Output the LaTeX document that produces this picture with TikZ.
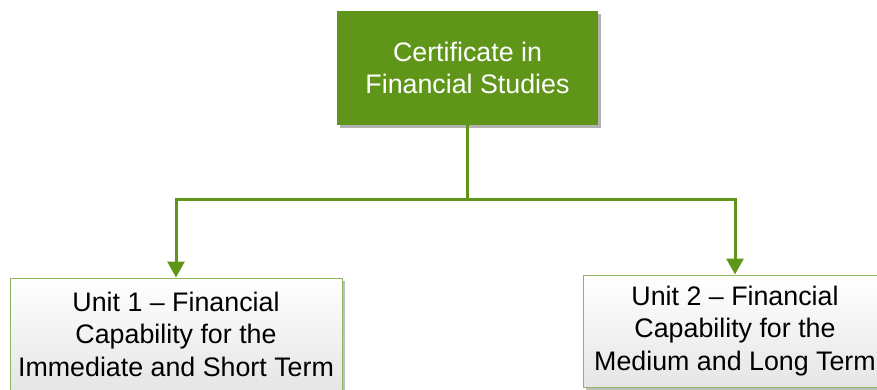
\documentclass[tikz,border=0pt]{standalone}
\usepackage{fontspec}
\setmainfont{Liberation Sans}
\usepackage{xcolor}
\usetikzlibrary{positioning,arrows.meta,shadows}
\definecolor{leafgreen}{RGB}{95,150,26}

\begin{document}
\begin{tikzpicture}[
    x=1pt, y=-1pt,
    topbox/.style={rectangle, fill=leafgreen, text=white, minimum width=261pt, minimum height=114pt, align=center,
        font=\fontsize{26.8}{32.5}\selectfont, drop shadow={shadow xshift=3pt, shadow yshift=-3pt, fill=black!30, opacity=1}},
    unitbox/.style={rectangle, draw=leafgreen!70, line width=1pt, top color=white, bottom color=black!10, align=center,
        minimum height=112pt, font=\fontsize{26.8}{32.5}\selectfont,
        drop shadow={shadow xshift=3pt, shadow yshift=-3pt, fill=black!25, opacity=1}},
    arrow/.style={-{Triangle[width=17pt,length=16pt]}, draw=leafgreen, line width=3pt}
]
    \useasboundingbox (0,0) rectangle (877,390);
    \node[topbox] (cert) at (467.5,68) {Certificate in\\Financial Studies};
    \node[unitbox, minimum width=332pt] (unit1) at (176,334) {Unit 1 -- Financial\\Capability for the\\Immediate and Short Term};
    \node[unitbox, minimum width=304pt] (unit2) at (735,331) {Unit 2 -- Financial\\Capability for the\\Medium and Long Term};
    \coordinate (fork) at (467.5,199);

    \draw[leafgreen, line width=3pt] (cert.south) -- (fork);
    \draw[arrow] (fork) -| (unit1.north);
    \draw[arrow] (fork) -| (unit2.north);
\end{tikzpicture}
\end{document}
